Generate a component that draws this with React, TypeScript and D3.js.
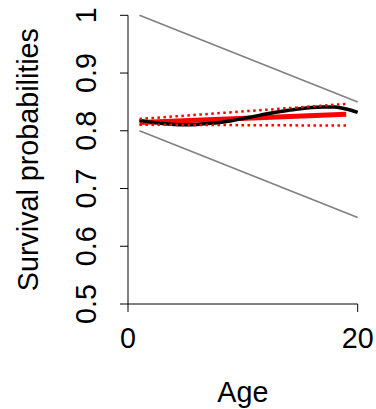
import React from "react";
import * as d3 from "d3";

const ages = [1, 2, 3, 4, 5, 6, 7, 8, 9, 10, 11, 12, 13, 14, 15, 16, 17, 18, 19, 20];
const smoothFit = [0.818, 0.815, 0.8125, 0.811, 0.8105, 0.811, 0.8125, 0.8145, 0.8175, 0.8212, 0.825, 0.829, 0.8325, 0.8355, 0.8382, 0.8402, 0.8412, 0.841, 0.8378, 0.832];
const boundAges = [1, 20];
const upperBound = [1.0, 0.85];
const lowerBound = [0.8, 0.65];
const linAges = [1, 19];
const linFit = [0.8142, 0.8287];
const linUpper = [0.8205, 0.8465];
const linLower = [0.8105, 0.809];
const yTicks = [0.5, 0.6, 0.7, 0.8, 0.9, 1];
const yTickLabels = ["0.5", "0.6", "0.7", "0.8", "0.9", "1"];
const xTicks = [0, 20];
const xTickLabels = ["0", "20"];

const FONT = "'Liberation Sans', Arial, Helvetica, sans-serif";
const FS = 28.7;

export default function App() {
  const x = d3.scaleLinear().domain([0, 20]).range([128, 357.7]);
  const y = d3.scaleLinear().domain([0.5, 1]).range([304, 15.3]);

  const straight = d3
    .line<[number, number]>()
    .x((d) => x(d[0]))
    .y((d) => y(d[1]));
  const smooth = d3
    .line<[number, number]>()
    .x((d) => x(d[0]))
    .y((d) => y(d[1]))
    .curve(d3.curveCatmullRom);

  const zip = (a: number[], b: number[]) => a.map((v, i) => [v, b[i]] as [number, number]);

  return (
    <svg
      width={376}
      height={409}
      style={{ position: "absolute", left: 0, top: 0, background: "#fff" }}
      fontFamily={FONT}
    >
      {/* gray bounds */}
      <path d={straight(zip(boundAges, upperBound)) || ""} stroke="#808080" strokeWidth={1.6} fill="none" />
      <path d={straight(zip(boundAges, lowerBound)) || ""} stroke="#808080" strokeWidth={1.6} fill="none" />
      {/* red fit */}
      <path d={straight(zip(linAges, linFit)) || ""} stroke="#ff0000" strokeWidth={5} fill="none" />
      {/* black smooth */}
      <path d={smooth(zip(ages, smoothFit)) || ""} stroke="#000" strokeWidth={3.5} fill="none" />
      {/* red dotted CI */}
      <path d={straight(zip(linAges, linUpper)) || ""} stroke="#ff0000" strokeWidth={2.5} strokeDasharray="2.5 3.5" fill="none" />
      <path d={straight(zip(linAges, linLower)) || ""} stroke="#ff0000" strokeWidth={2.5} strokeDasharray="2.5 3.5" fill="none" />

      {/* y axis */}
      <line x1={x(0)} x2={x(0)} y1={y(0.5)} y2={y(1)} stroke="#000" strokeWidth={1} />
      {yTicks.map((t, i) => (
        <g key={"y" + t}>
          <line x1={x(0) - 8} x2={x(0)} y1={y(t)} y2={y(t)} stroke="#000" strokeWidth={1} />
          <text
            transform={`translate(96,${y(t)}) rotate(-90)`}
            textAnchor="middle"
            fontSize={FS}
            fill="#000"
          >
            {yTickLabels[i]}
          </text>
        </g>
      ))}

      {/* x axis */}
      <line x1={x(0)} x2={x(20)} y1={y(0.5)} y2={y(0.5)} stroke="#000" strokeWidth={1} />
      {xTicks.map((t, i) => (
        <g key={"x" + t}>
          <line x1={x(t)} x2={x(t)} y1={y(0.5)} y2={y(0.5) + 8} stroke="#000" strokeWidth={1} />
          <text x={x(t)} y={347.5} textAnchor="middle" fontSize={FS} fill="#000">
            {xTickLabels[i]}
          </text>
        </g>
      ))}

      <text x={(x(0) + x(20)) / 2} y={402} textAnchor="middle" fontSize={FS} fill="#000">
        Age
      </text>
      <text
        transform={`translate(37.5,${(y(0.5) + y(1)) / 2}) rotate(-90)`}
        textAnchor="middle"
        fontSize={FS}
        fill="#000"
      >
        Survival probabilities
      </text>
    </svg>
  );
}
